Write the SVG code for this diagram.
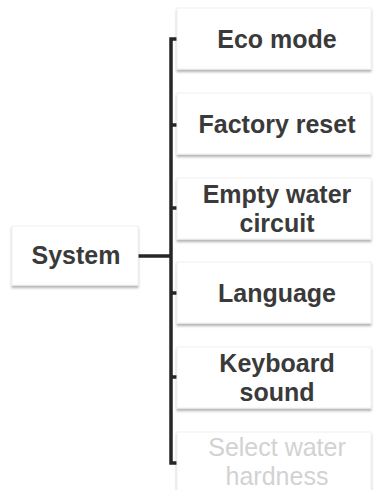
<svg xmlns="http://www.w3.org/2000/svg" width="374" height="490" viewBox="0 0 374 490">
<style>
.box{fill:#ffffff;stroke:#f0f0f0;stroke-width:1}
.t{font-family:"Liberation Sans",Arial,sans-serif;font-size:25px;font-weight:bold;fill:#3a3a3a;text-anchor:middle}
.dim{font-weight:normal;fill:#d2d2d2}
.ln{stroke:#262626;stroke-width:3.5;fill:none}
</style>
<defs>
<filter id="sh" x="-10%" y="-10%" width="120%" height="130%">
<feDropShadow dx="0" dy="2.5" stdDeviation="0.8" flood-color="#000" flood-opacity="0.3"/>
</filter>
</defs>
<rect width="374" height="490" fill="#ffffff"/>
<g id="connectors">
<path class="ln" d="M177 39 H171 V463 H177"/>
<path class="ln" d="M171 125 H177 M171 208 H177 M171 293 H177 M171 377 H177"/>
<path class="ln" d="M138 256 H171"/>
</g>
<g id="system">
<rect class="box" x="12" y="226" width="126" height="59" filter="url(#sh)"/>
<text class="t" x="76" y="264">System</text>
</g>
<g id="eco-mode">
<rect class="box" x="177" y="8" width="194" height="61" filter="url(#sh)"/>
<text class="t" x="277" y="48">Eco mode</text>
</g>
<g id="factory-reset">
<rect class="box" x="177" y="93" width="194" height="61" filter="url(#sh)"/>
<text class="t" x="277" y="133">Factory reset</text>
</g>
<g id="empty-water-circuit">
<rect class="box" x="177" y="178" width="194" height="61" filter="url(#sh)"/>
<text class="t" x="277" y="203">Empty water</text>
<text class="t" x="277" y="232">circuit</text>
</g>
<g id="language">
<rect class="box" x="177" y="262" width="194" height="61" filter="url(#sh)"/>
<text class="t" x="277" y="302">Language</text>
</g>
<g id="keyboard-sound">
<rect class="box" x="177" y="347" width="194" height="61" filter="url(#sh)"/>
<text class="t" x="277" y="372">Keyboard</text>
<text class="t" x="277" y="401">sound</text>
</g>
<g id="select-water-hardness">
<rect class="box" x="177" y="432" width="194" height="70" filter="url(#sh)"/>
<text class="t dim" x="277" y="456">Select water</text>
<text class="t dim" x="277" y="485">hardness</text>
</g>
</svg>
